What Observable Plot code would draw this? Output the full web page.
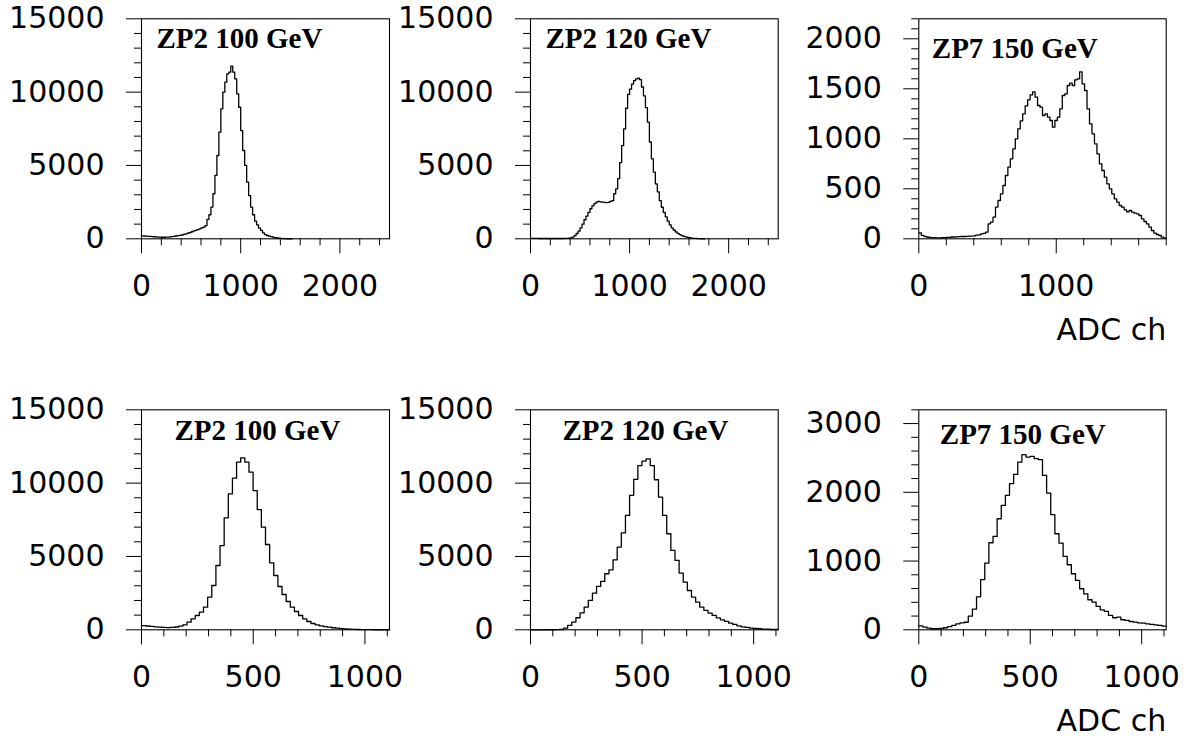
<!DOCTYPE html>
<html><head><meta charset="utf-8">
<script src="https://cdn.jsdelivr.net/npm/d3@7"></script>
<script src="https://cdn.jsdelivr.net/npm/@observablehq/plot@0.6"></script>
<style>
body{margin:0;background:#fff}
#root{position:relative;width:1184px;height:736px;overflow:hidden;background:#fff}
#root > svg, #root > figure, #root > div {position:absolute;margin:0}
</style></head><body><div id="root"></div>
<script>
// ---------- data ----------
const titles = ["ZP2 100 GeV", "ZP2 120 GeV", "ZP7 150 GeV", "ZP2 100 GeV", "ZP2 120 GeV", "ZP7 150 GeV"];
const axisTitle = "ADC ch";

const topBinWidth = 20;      // ADC ch per bin (top left & middle)
const topRightBinWidth = 18; // ADC ch per bin (top right)
const bottomBinWidth = 18.5; // ADC ch per bin (bottom row)

const topLeftCounts = [200,190,180,170,160,150,140,130,120,110,
 105,105,110,120,135,150,170,190,210,230,
 260,300,340,380,420,480,540,580,620,680,
 740,790,900,1320,1640,2160,3070,4320,5680,7270,
 8860,10000,10680,11250,11360,11770,11360,10900,9880,8970,
 7380,6020,5000,3860,2950,2160,1640,1200,950,725,
 570,410,290,225,180,150,110,80,55,40,
 25,15,10,5,3,0];

const topMidCounts = [30,30,25,25,20,20,20,20,20,20,20,20,20,20,20,
 20,20,25,30,40,60,120,220,360,520,750,1000,1300,1550,1800,
 2050,2250,2400,2500,2550,2520,2500,2480,2470,2490,2550,2600,3070,3400,4100,
 5200,6350,7500,8900,9850,10200,10550,10780,10900,10950,10850,10350,9750,8950,7950,
 6600,5450,4550,3750,3200,2600,2150,1800,1500,1200,950,750,600,470,370,
 290,220,170,130,100,70,50,35,25,15,10,5,0];

const topRightCounts = [60,35,25,18,15,12,12,10,10,12,12,15,15,18,18,20,22,
 23,23,25,27,27,30,36,40,50,55,67,150,167,217,317,383,450,533,633,717,800,900,1000,1100,
 1180,1250,1330,1390,1440,1470,1416,1333,1316,1233,1250,1216,1183,1116,1183,1216,1300,1433,1450,1533,
 1556,1533,1590,1600,1670,1550,1483,1300,1150,1050,950,850,750,683,616,550,500,450,400,366,
 333,316,290,270,283,266,256,250,233,200,173,150,117,83,56,43,33,16,7];

const bottomLeftCounts = [290,260,230,200,180,160,150,160,190,250,
 339,520,750,975,1202,1543,2224,3020,4383,5746,7633,9268,10336,11427,11722,11427,10745,9496,8200,6996,
 5815,4565,3702,2952,2406,1929,1543,1247,975,750,566,429,339,270,220,180,140,110,85,65,
 45,30,20,15,10,8,5,3,2,0];

const bottomMidCounts = [0,0,0,0,5,5,10,
 20,115,300,530,820,1160,1550,2000,2500,2955,3300,3820,4090,4770,5640,6615,7800,9160,10250,11200,11500,11660,
 11200,10230,9050,7800,6550,5415,4730,3870,3250,2680,2230,1890,1550,1320,1140,977,818,682,568,455,364,
 273,205,160,115,90,70,45,40,20,20];

const bottomRightCounts = [58,38,24,15,15,20,30,45,65,87,100,110,200,300,480,730,970,1266,1358,1615,
 1809,1955,2125,2261,2440,2547,2513,2523,2489,2474,2246,1989,1674,1397,1261,1067,946,815,718,597,
 524,437,403,340,291,267,209,175,184,146,136,121,112,102,97,87,78,73,63,53];

// tick values / labels
const xTopMajor = [0, 1000, 2000];
const xTopMinor = [200, 400, 600, 800, 1200, 1400, 1600, 1800, 2200, 2400];
const xTopRightMajor = [0, 1000];
const xTopRightMinor = [200, 400, 600, 800, 1200, 1400, 1600, 1800];
const xBottomMajor = [0, 500, 1000];
const xBottomMinor = [100, 200, 300, 400, 600, 700, 800, 900, 1100];
const yCountMajor = [0, 5000, 10000, 15000];
const yCountMinor = [1000, 2000, 3000, 4000, 6000, 7000, 8000, 9000, 11000, 12000, 13000, 14000];
const yTopRightMajor = [0, 500, 1000, 1500, 2000];
const yTopRightMinor = [100,200,300,400,600,700,800,900,1100,1200,1300,1400,1600,1700,1800,1900,2100,2200];
const yBottomRightMajor = [0, 1000, 2000, 3000];
const yBottomRightMinor = [200,400,600,800,1200,1400,1600,1800,2200,2400,2600,2800,3200];

const xTopDomain = [0, 2500];
const xTopRightDomain = [0, 1800];
const xBottomDomain = [0, 1110];
const yCountDomain = [0, 15000];
const yTopRightDomain = [0, 2200];
const yBottomRightDomain = [0, 3200];

// ---------- layout ----------
const panels = [
  {counts: topLeftCounts, bw: topBinWidth, title: titles[0], xd: xTopDomain, yd: yCountDomain,
   xM: xTopMajor, xm: xTopMinor, yM: yCountMajor, ym: yCountMinor,
   left: 0, top: 0, w: 400, h: 368, mL: 141, mR: 11, mT: 18.3, mB: 129.7, tdx: 15, tdy: 29.4, unit: false},
  {counts: topMidCounts, bw: topBinWidth, title: titles[1], xd: xTopDomain, yd: yCountDomain,
   xM: xTopMajor, xm: xTopMinor, yM: yCountMajor, ym: yCountMinor,
   left: 400, top: 0, w: 390, h: 368, mL: 130, mR: 12.3, mT: 18.3, mB: 129.7, tdx: 15, tdy: 29.4, unit: false},
  {counts: topRightCounts, bw: topRightBinWidth, title: titles[2], xd: xTopRightDomain, yd: yTopRightDomain,
   xM: xTopRightMajor, xm: xTopRightMinor, yM: yTopRightMajor, ym: yTopRightMinor,
   left: 790, top: 0, w: 394, h: 368, mL: 128.3, mR: 18.3, mT: 18.3, mB: 129.7, tdx: 13, tdy: 39, unit: true},
  {counts: bottomLeftCounts, bw: bottomBinWidth, title: titles[3], xd: xBottomDomain, yd: yCountDomain,
   xM: xBottomMajor, xm: xBottomMinor, yM: yCountMajor, ym: yCountMinor,
   left: 0, top: 368, w: 400, h: 368, mL: 141, mR: 11, mT: 41.3, mB: 106.7, tdx: 33, tdy: 29.7, unit: false},
  {counts: bottomMidCounts, bw: bottomBinWidth, title: titles[4], xd: xBottomDomain, yd: yCountDomain,
   xM: xBottomMajor, xm: xBottomMinor, yM: yCountMajor, ym: yCountMinor,
   left: 400, top: 368, w: 390, h: 368, mL: 130, mR: 12.3, mT: 41.3, mB: 106.7, tdx: 32, tdy: 29.7, unit: false},
  {counts: bottomRightCounts, bw: bottomBinWidth, title: titles[5], xd: xBottomDomain, yd: yBottomRightDomain,
   xM: xBottomMajor, xm: xBottomMinor, yM: yBottomRightMajor, ym: yBottomRightMinor,
   left: 790, top: 368, w: 394, h: 368, mL: 128.3, mR: 18.3, mT: 41.3, mB: 106.7, tdx: 21, tdy: 34, unit: true}
];

const root = document.getElementById("root");
const fmt = d3.format("d");
const sans = "DejaVu Sans";

for (const p of panels) {
  const rows = p.counts.map((v, i) => ({edge: i * p.bw, count: v}));
  rows.push({edge: p.counts.length * p.bw, count: p.counts[p.counts.length - 1]});
  const marks = [
    Plot.axisX({ticks: p.xm, tickSize: 7, tickFormat: () => "", label: null, stroke: "black"}),
    Plot.axisX({ticks: p.xM, tickSize: 15, tickPadding: 20.5, tickFormat: fmt, label: null, fontSize: 30, fontFamily: sans, fill: "black", stroke: "black"}),
    Plot.axisY({ticks: p.ym, tickSize: 7, tickFormat: () => "", label: null, stroke: "black"}),
    Plot.axisY({ticks: p.yM, tickSize: 15, tickPadding: 22, tickFormat: fmt, label: null, fontSize: 30, fontFamily: sans, fill: "black", stroke: "black"}),
    Plot.frame({stroke: "black", strokeWidth: 1.1}),
    Plot.line(rows, {x: "edge", y: "count", curve: "step-after", stroke: "black", strokeWidth: 1.3}),
    Plot.text([p.title], {text: d => d, frameAnchor: "top-left", textAnchor: "start", lineAnchor: "bottom",
      dx: p.tdx, dy: p.tdy, fontFamily: "Liberation Serif", fontWeight: "bold", fontSize: 29, fill: "black"})
  ];
  if (p.unit) {
    marks.push(Plot.text([axisTitle], {text: d => d, frameAnchor: "bottom-right", textAnchor: "end", lineAnchor: "bottom",
      dy: 100.7, fontFamily: sans, fontSize: 30, fill: "black"}));
  }
  const chart = Plot.plot({
    width: p.w, height: p.h,
    marginLeft: p.mL, marginRight: p.mR, marginTop: p.mT, marginBottom: p.mB,
    x: {domain: p.xd, label: null},
    y: {domain: p.yd, label: null},
    style: {background: "transparent", overflow: "visible", fontFamily: sans, color: "black"},
    marks
  });
  chart.style.position = "absolute";
  chart.style.left = p.left + "px";
  chart.style.top = p.top + "px";
  chart.style.maxWidth = "none";
  root.appendChild(chart);
}
</script></body></html>
